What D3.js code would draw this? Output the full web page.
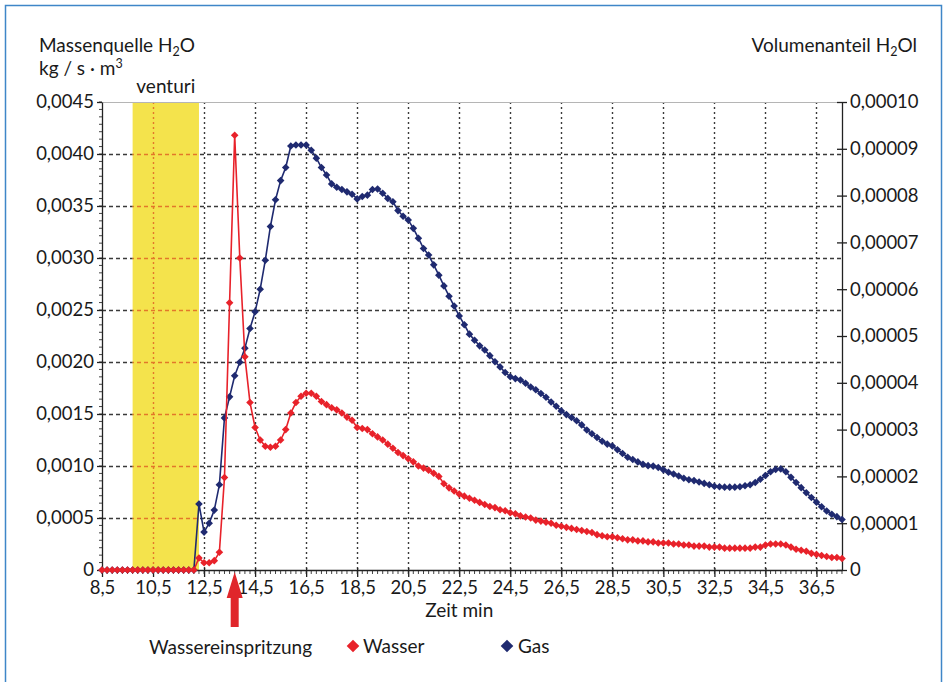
<!DOCTYPE html>
<html>
<head>
<meta charset="utf-8">
<script src="https://cdn.jsdelivr.net/npm/d3@7"></script>
<style>
  html, body { margin: 0; padding: 0; background: #fff; }
  svg { display: block; font-family: Lato, "Open Sans", sans-serif; }
</style>
</head>
<body>
<svg id="chart" width="947" height="682"></svg>
<script>
// Messzeit in Minuten
const zeit = [
  8.5, 8.7, 8.9, 9.1, 9.3, 9.5, 9.7, 9.9, 10.1, 10.3,
  10.5, 10.7, 10.9, 11.1, 11.3, 11.5, 11.7, 11.9, 12.1, 12.3,
  12.5, 12.7, 12.9, 13.1, 13.3, 13.5, 13.7, 13.9, 14.1, 14.3,
  14.5, 14.7, 14.9, 15.1, 15.3, 15.5, 15.7, 15.9, 16.1, 16.3,
  16.5, 16.7, 16.9, 17.1, 17.3, 17.5, 17.7, 17.9, 18.1, 18.3,
  18.5, 18.7, 18.9, 19.1, 19.3, 19.5, 19.7, 19.9, 20.1, 20.3,
  20.5, 20.7, 20.9, 21.1, 21.3, 21.5, 21.7, 21.9, 22.1, 22.3,
  22.5, 22.7, 22.9, 23.1, 23.3, 23.5, 23.7, 23.9, 24.1, 24.3,
  24.5, 24.7, 24.9, 25.1, 25.3, 25.5, 25.7, 25.9, 26.1, 26.3,
  26.5, 26.7, 26.9, 27.1, 27.3, 27.5, 27.7, 27.9, 28.1, 28.3,
  28.5, 28.7, 28.9, 29.1, 29.3, 29.5, 29.7, 29.9, 30.1, 30.3,
  30.5, 30.7, 30.9, 31.1, 31.3, 31.5, 31.7, 31.9, 32.1, 32.3,
  32.5, 32.7, 32.9, 33.1, 33.3, 33.5, 33.7, 33.9, 34.1, 34.3,
  34.5, 34.7, 34.9, 35.1, 35.3, 35.5, 35.7, 35.9, 36.1, 36.3,
  36.5, 36.7, 36.9, 37.1, 37.3, 37.5
];

// Massenquelle H2O (Wasser), kg / s·m³ – linke Achse
const wasser = [
  0, 0, 0, 0, 0, 0, 0, 0, 0, 0,
  0, 0, 0, 0, 0, 0, 0, 0, 0, 0.000115,
  0.00007, 0.00007, 0.00009, 0.00017, 0.00089, 0.00257, 0.00418, 0.0030, 0.00205, 0.00161,
  0.00137, 0.00125, 0.00119, 0.00118, 0.00119, 0.00125, 0.00135, 0.00151, 0.00161, 0.00167,
  0.0017, 0.0017, 0.00167, 0.00162, 0.00159, 0.00156, 0.00154, 0.00151, 0.00147, 0.00144,
  0.00137, 0.00136, 0.00135, 0.00131, 0.00128, 0.00125, 0.00121, 0.00117, 0.00113, 0.0011,
  0.00107, 0.00104, 0.001, 0.00098, 0.00096, 0.00093, 0.0009, 0.00083, 0.00079, 0.00076,
  0.00073, 0.00071, 0.00069, 0.00067, 0.00065, 0.00063, 0.00061, 0.0006, 0.00058, 0.00057,
  0.00055, 0.00054, 0.00052, 0.00051, 0.0005, 0.00048, 0.00047, 0.00046, 0.00045, 0.00043,
  0.00042, 0.00041, 0.0004, 0.00039, 0.00038, 0.00037, 0.00036, 0.00034, 0.00033, 0.00032,
  0.00032, 0.00031, 0.0003, 0.00029, 0.00029, 0.00028, 0.00028, 0.00027, 0.00027, 0.00026,
  0.00026, 0.00026, 0.00025, 0.00025, 0.00024, 0.00024, 0.00023, 0.00023, 0.00023, 0.00022,
  0.00022, 0.00022, 0.00021, 0.00021, 0.00021, 0.00021, 0.00021, 0.00021, 0.00022, 0.00022,
  0.00024, 0.00025, 0.00025, 0.00025, 0.00024, 0.00022, 0.0002, 0.00019, 0.00018, 0.00016,
  0.00015, 0.00014, 0.00013, 0.00012, 0.00012, 0.00011
];

// Volumenanteil H2O (Gas) in Einheiten von 0,00001 – rechte Achse
const gasE5 = [
  0, 0, 0, 0, 0, 0, 0, 0, 0, 0,
  0, 0, 0, 0, 0, 0, 0, 0, 0, 1.41,
  0.81, 1.0, 1.28, 1.82, 3.25, 3.70, 4.15, 4.44, 4.74, 5.16,
  5.52, 6.0, 6.62, 7.34, 7.91, 8.32, 8.6, 9.06, 9.08, 9.08,
  9.08, 8.97, 8.8, 8.6, 8.44, 8.25, 8.18, 8.13, 8.08, 8.03,
  7.93, 7.98, 8.01, 8.13, 8.14, 8.05, 7.94, 7.87, 7.68, 7.56,
  7.48, 7.3, 7.09, 6.87, 6.73, 6.52, 6.3, 6.07, 5.85, 5.64,
  5.43, 5.24, 5.04, 4.91, 4.79, 4.70, 4.58, 4.45, 4.34, 4.22,
  4.13, 4.09, 4.06, 3.99, 3.91, 3.85, 3.77, 3.69, 3.59, 3.5,
  3.4, 3.32, 3.26, 3.19, 3.1, 2.99, 2.91, 2.83, 2.75, 2.69,
  2.65, 2.57, 2.49, 2.41, 2.36, 2.31, 2.26, 2.23, 2.22, 2.19,
  2.14, 2.09, 2.05, 2.01, 1.96, 1.93, 1.91, 1.88, 1.85, 1.82,
  1.79, 1.78, 1.77, 1.77, 1.77, 1.78, 1.8, 1.82, 1.87, 1.94,
  2.02, 2.1, 2.15, 2.16, 2.1, 1.98, 1.87, 1.76, 1.65, 1.55,
  1.45, 1.35, 1.26, 1.19, 1.14, 1.08
];

// Venturi-Bereich und Zeitpunkt der Wassereinspritzung (min)
const venturiBereich = [9.7, 12.3];
const einspritzung = 13.7;

// Achsenbeschriftungen
const xTicks = [8.5, 10.5, 12.5, 14.5, 16.5, 18.5, 20.5, 22.5, 24.5, 26.5, 28.5, 30.5, 32.5, 34.5, 36.5];
const yLinksTicks = [0, 0.0005, 0.0010, 0.0015, 0.0020, 0.0025, 0.0030, 0.0035, 0.0040, 0.0045];
const yRechtsTicks = [0, 1, 2, 3, 4, 5, 6, 7, 8, 9, 10];

const ROT = "#e8222a", BLAU = "#1f2a70", TEXT = "#1a1a1a";
const FS = 19, TICK_FS = 18.5;

const svg = d3.select("#chart");

const x  = d3.scaleLinear().domain([8.5, 37.5]).range([102, 842]);
const yL = d3.scaleLinear().domain([0, 0.0045]).range([570, 102]);
const yR = d3.scaleLinear().domain([0, 10]).range([570, 102]);
const [x0, x1] = x.range();
const [yBot, yTop] = yL.range();

// Rahmen
svg.append("rect")
  .attr("x", 5.5).attr("y", 5.5).attr("width", 936).attr("height", 700)
  .attr("fill", "#fff").attr("stroke", "#3f86c8").attr("stroke-width", 1.5);

// Gitternetz
function drawGrid(g, color) {
  g.selectAll("line.h")
    .data(yLinksTicks.filter(v => v > 0 && v < 0.0045))
    .join("line").attr("class", "h")
    .attr("x1", x0).attr("x2", x1)
    .attr("y1", d => Math.round(yL(d)) + 0.5).attr("y2", d => Math.round(yL(d)) + 0.5)
    .attr("stroke", color).attr("stroke-width", 1.3).attr("stroke-dasharray", "4,3");
  g.selectAll("line.v")
    .data(xTicks.filter(v => v > 8.5))
    .join("line").attr("class", "v")
    .attr("x1", d => Math.round(x(d)) + 0.5).attr("x2", d => Math.round(x(d)) + 0.5)
    .attr("y1", yTop).attr("y2", yBot)
    .attr("stroke", color).attr("stroke-width", 1.4).attr("stroke-dasharray", "2,3");
}
drawGrid(svg.append("g"), "#3a3a3a");

// Venturi-Bereich
const bx0 = x(venturiBereich[0]), bx1 = x(venturiBereich[1]);
svg.append("rect")
  .attr("x", bx0).attr("y", yTop).attr("width", bx1 - bx0).attr("height", yBot - yTop)
  .attr("fill", "#f4e34c");
svg.append("clipPath").attr("id", "venturiClip")
  .append("rect").attr("x", bx0).attr("y", yTop).attr("width", bx1 - bx0).attr("height", yBot - yTop);
drawGrid(svg.append("g").attr("clip-path", "url(#venturiClip)"), "#e2782a");

svg.append("text")
  .attr("x", (bx0 + bx1) / 2).attr("y", 93)
  .attr("text-anchor", "middle").attr("font-size", FS).attr("fill", TEXT)
  .text("venturi");

// obere Begrenzung
svg.append("line")
  .attr("x1", x0).attr("x2", x1).attr("y1", yTop + 0.5).attr("y2", yTop + 0.5)
  .attr("stroke", "#b5b5b5").attr("stroke-width", 1.2);

// Achsen
function styleAxis(g) {
  g.attr("font-family", null).attr("font-size", TICK_FS);
  g.selectAll("text").attr("fill", TEXT);
  g.selectAll("line, path").attr("stroke", "#222").attr("stroke-width", 1.3);
}

const fmtL = d => d === 0 ? "0" : d.toFixed(4).replace(".", ",");
const fmtR = d => d === 0 ? "0" : (d * 1e-5).toFixed(5).replace(".", ",");
const fmtX = d => d.toFixed(1).replace(".", ",");

// Nebenteilstriche
const minorL = d3.range(0, 0.0045 + 1e-9, 0.0005 / 7);
svg.append("g").selectAll("line").data(minorL).join("line")
  .attr("x1", x0 - 3).attr("x2", x0)
  .attr("y1", d => yL(d)).attr("y2", d => yL(d))
  .attr("stroke", "#444").attr("stroke-width", 1);
svg.append("g").selectAll("line").data(zeit).join("line")
  .attr("x1", d => x(d)).attr("x2", d => x(d))
  .attr("y1", yBot).attr("y2", yBot + 4)
  .attr("stroke", "#444").attr("stroke-width", 1);

const axL = svg.append("g").attr("transform", `translate(${x0},0)`)
  .call(d3.axisLeft(yL).tickValues(yLinksTicks).tickFormat(fmtL)
        .tickSize(5).tickSizeOuter(0).tickPadding(3));
styleAxis(axL);

const axR = svg.append("g").attr("transform", `translate(${x1},0)`)
  .call(d3.axisRight(yR).tickValues(yRechtsTicks).tickFormat(fmtR)
        .tickSize(5).tickSizeOuter(0).tickPadding(3));
axR.selectAll(".tick line").attr("x1", -5);
styleAxis(axR);

const axB = svg.append("g").attr("transform", `translate(0,${yBot})`)
  .call(d3.axisBottom(x).tickValues(xTicks).tickFormat(fmtX)
        .tickSize(7).tickSizeOuter(0).tickPadding(4));
axB.selectAll(".tick line").attr("y1", -2);
styleAxis(axB);

// Datenreihen
const punkte = zeit.map((t, i) => ({ t, w: wasser[i], g: gasE5[i] }));
const raute = r => `M0,${-r}L${r},0L0,${r}L${-r},0Z`;

function reihe(acc, yScale, color) {
  const g = svg.append("g");
  g.append("path").datum(punkte)
    .attr("fill", "none").attr("stroke", color).attr("stroke-width", 1.6)
    .attr("stroke-linejoin", "round")
    .attr("d", d3.line().x(d => x(d.t)).y(d => yScale(acc(d))));
  g.selectAll("path.m").data(punkte).join("path").attr("class", "m")
    .attr("transform", d => `translate(${x(d.t)},${yScale(acc(d))})`)
    .attr("d", raute(3.8)).attr("fill", color);
}
reihe(d => d.g, yR, BLAU);
reihe(d => d.w, yL, ROT);

// Achsentitel
const t1 = svg.append("text").attr("x", 39).attr("y", 52).attr("font-size", FS).attr("fill", TEXT);
t1.append("tspan").text("Massenquelle H");
t1.append("tspan").attr("font-size", 12.5).attr("dy", 4).text("2");
t1.append("tspan").attr("dy", -4).text("O");

const t2 = svg.append("text").attr("x", 39).attr("y", 75).attr("font-size", FS).attr("fill", TEXT);
t2.append("tspan").text("kg / s · m");
t2.append("tspan").attr("font-size", 12.5).attr("dy", -7).text("3");

const t3 = svg.append("text").attr("x", 917).attr("y", 52).attr("text-anchor", "end")
  .attr("font-size", FS).attr("fill", TEXT);
t3.append("tspan").text("Volumenanteil H");
t3.append("tspan").attr("font-size", 12.5).attr("dy", 4).text("2");
t3.append("tspan").attr("dy", -4).text("Ol");

svg.append("text").attr("x", x(22.5)).attr("y", 617)
  .attr("text-anchor", "middle").attr("font-size", FS).attr("fill", TEXT)
  .text("Zeit min");

// Pfeil: Wassereinspritzung
const ax = x(einspritzung);
svg.append("path")
  .attr("d", `M${ax},572L${ax + 8},598L${ax + 4},598L${ax + 4},627L${ax - 4},627L${ax - 4},598L${ax - 8},598Z`)
  .attr("fill", "#e0262b");

// Legende
svg.append("text").attr("x", 149).attr("y", 654).attr("font-size", FS).attr("fill", TEXT)
  .text("Wassereinspritzung");
const legende = [
  { name: "Wasser", color: ROT, cx: 353, tx: 363 },
  { name: "Gas", color: BLAU, cx: 507, tx: 518 }
];
legende.forEach(l => {
  svg.append("path").attr("transform", `translate(${l.cx},646)`).attr("d", raute(6.3)).attr("fill", l.color);
  svg.append("text").attr("x", l.tx).attr("y", 653).attr("font-size", FS).attr("fill", TEXT).text(l.name);
});
</script>
</body>
</html>
